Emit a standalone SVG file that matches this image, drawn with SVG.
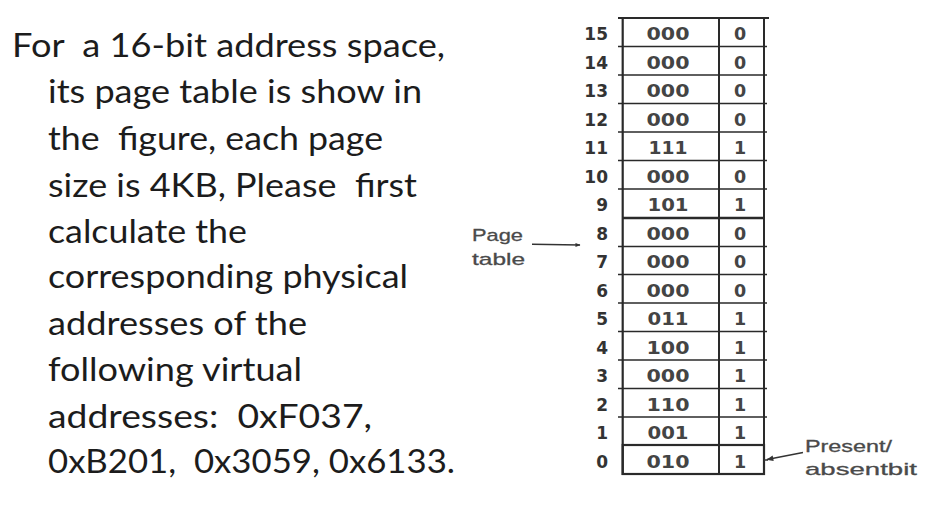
<svg xmlns="http://www.w3.org/2000/svg" width="928" height="507" viewBox="0 0 928 507">
<style>
.q{font-family:Lato,"Open Sans","Liberation Sans",sans-serif;font-size:33px;fill:#1c1c1c;white-space:pre}
.lbl{font-family:"DejaVu Sans","Liberation Sans",sans-serif;font-weight:bold;font-size:17px;fill:#333;text-anchor:end}
.cell{font-family:"DejaVu Sans","Liberation Sans",sans-serif;font-weight:bold;font-size:17.5px;fill:#444;text-anchor:middle}
.note{font-family:"Liberation Sans",Arial,sans-serif;font-size:17px;fill:#4a4a4a;stroke:#4a4a4a;stroke-width:0.3}
.grid{stroke:#2a2a2a;stroke-width:1.6;fill:none}
.conn{stroke:#333;stroke-width:1.5;fill:none}
</style>
<defs>
<marker id="ah" viewBox="0 0 10 10" refX="9" refY="5" markerWidth="8" markerHeight="5" orient="auto" markerUnits="userSpaceOnUse">
<path d="M0,1 L10,5 L0,9 z" fill="#333"/>
</marker>
<marker id="ah2" viewBox="0 0 10 10" refX="9" refY="5" markerWidth="12" markerHeight="7" orient="auto" markerUnits="userSpaceOnUse">
<path d="M0,1 L10,5 L0,9 z" fill="#333"/>
</marker>
</defs>
<rect width="928" height="507" fill="#ffffff"/>

<g id="question" xml:space="preserve">
<text class="q" x="12" y="57" textLength="433" lengthAdjust="spacingAndGlyphs">For  a 16-bit address space,</text>
<text class="q" x="48" y="103" textLength="374" lengthAdjust="spacingAndGlyphs">its page table is show in</text>
<text class="q" x="48" y="150" textLength="335" lengthAdjust="spacingAndGlyphs">the  figure, each page</text>
<text class="q" x="48" y="197" textLength="369" lengthAdjust="spacingAndGlyphs">size is 4KB, Please  first</text>
<text class="q" x="48" y="243" textLength="199" lengthAdjust="spacingAndGlyphs">calculate the</text>
<text class="q" x="48" y="288" textLength="360" lengthAdjust="spacingAndGlyphs">corresponding physical</text>
<text class="q" x="48" y="335" textLength="259" lengthAdjust="spacingAndGlyphs">addresses of the</text>
<text class="q" x="48" y="381" textLength="254" lengthAdjust="spacingAndGlyphs">following virtual</text>
<text class="q" x="48" y="428" textLength="324" lengthAdjust="spacingAndGlyphs">addresses:  0xF037,</text>
<text class="q" x="48" y="473" textLength="407" lengthAdjust="spacingAndGlyphs">0xB201,  0x3059, 0x6133.</text>
</g>

<g id="page-table">
<g class="grid">
<line x1="618" y1="18" x2="769" y2="18" stroke-width="2.2"/>
<line x1="622.7" y1="17" x2="622.7" y2="475" stroke-width="2.2"/>
<line x1="719" y1="17" x2="719" y2="475" stroke-width="2"/>
<line x1="764" y1="17" x2="764" y2="475" stroke-width="2"/>
<line x1="618" y1="46.5" x2="767" y2="46.5"/>
<line x1="618" y1="75" x2="767" y2="75"/>
<line x1="618" y1="103.5" x2="767" y2="103.5"/>
<line x1="618" y1="132" x2="767" y2="132"/>
<line x1="618" y1="160.5" x2="767" y2="160.5"/>
<line x1="618" y1="189" x2="767" y2="189"/>
<line x1="622" y1="218" x2="764" y2="218" stroke-width="2.4"/>
<line x1="618" y1="246.5" x2="767" y2="246.5"/>
<line x1="618" y1="274.5" x2="767" y2="274.5"/>
<line x1="618" y1="303" x2="767" y2="303"/>
<line x1="618" y1="331.5" x2="767" y2="331.5"/>
<line x1="618" y1="360" x2="767" y2="360"/>
<line x1="618" y1="388.5" x2="767" y2="388.5"/>
<line x1="618" y1="417" x2="767" y2="417"/>
<rect x="622.7" y="445" width="141.3" height="29" stroke-width="2.2"/>
</g>
<g id="row-15"><text class="lbl" x="608" y="40">15</text><text class="cell" x="668" y="40" textLength="43" lengthAdjust="spacingAndGlyphs">000</text><text class="cell" x="740" y="40">0</text></g>
<g id="row-14"><text class="lbl" x="608" y="68.5">14</text><text class="cell" x="668" y="68.5" textLength="43" lengthAdjust="spacingAndGlyphs">000</text><text class="cell" x="740" y="68.5">0</text></g>
<g id="row-13"><text class="lbl" x="608" y="97">13</text><text class="cell" x="668" y="97" textLength="43" lengthAdjust="spacingAndGlyphs">000</text><text class="cell" x="740" y="97">0</text></g>
<g id="row-12"><text class="lbl" x="608" y="125.5">12</text><text class="cell" x="668" y="125.5" textLength="43" lengthAdjust="spacingAndGlyphs">000</text><text class="cell" x="740" y="125.5">0</text></g>
<g id="row-11"><text class="lbl" x="608" y="154">11</text><text class="cell" x="668" y="154" textLength="39" lengthAdjust="spacingAndGlyphs">111</text><text class="cell" x="740" y="154">1</text></g>
<g id="row-10"><text class="lbl" x="608" y="182.5">10</text><text class="cell" x="668" y="182.5" textLength="43" lengthAdjust="spacingAndGlyphs">000</text><text class="cell" x="740" y="182.5">0</text></g>
<g id="row-9"><text class="lbl" x="608" y="211">9</text><text class="cell" x="668" y="211" textLength="41" lengthAdjust="spacingAndGlyphs">101</text><text class="cell" x="740" y="211">1</text></g>
<g id="row-8"><text class="lbl" x="608" y="239.5">8</text><text class="cell" x="668" y="239.5" textLength="43" lengthAdjust="spacingAndGlyphs">000</text><text class="cell" x="740" y="239.5">0</text></g>
<g id="row-7"><text class="lbl" x="608" y="268">7</text><text class="cell" x="668" y="268" textLength="43" lengthAdjust="spacingAndGlyphs">000</text><text class="cell" x="740" y="268">0</text></g>
<g id="row-6"><text class="lbl" x="608" y="296.5">6</text><text class="cell" x="668" y="296.5" textLength="43" lengthAdjust="spacingAndGlyphs">000</text><text class="cell" x="740" y="296.5">0</text></g>
<g id="row-5"><text class="lbl" x="608" y="325">5</text><text class="cell" x="668" y="325" textLength="41" lengthAdjust="spacingAndGlyphs">011</text><text class="cell" x="740" y="325">1</text></g>
<g id="row-4"><text class="lbl" x="608" y="353.5">4</text><text class="cell" x="668" y="353.5" textLength="43" lengthAdjust="spacingAndGlyphs">100</text><text class="cell" x="740" y="353.5">1</text></g>
<g id="row-3"><text class="lbl" x="608" y="382">3</text><text class="cell" x="668" y="382" textLength="43" lengthAdjust="spacingAndGlyphs">000</text><text class="cell" x="740" y="382">1</text></g>
<g id="row-2"><text class="lbl" x="608" y="410.5">2</text><text class="cell" x="668" y="410.5" textLength="43" lengthAdjust="spacingAndGlyphs">110</text><text class="cell" x="740" y="410.5">1</text></g>
<g id="row-1"><text class="lbl" x="608" y="439">1</text><text class="cell" x="668" y="439" textLength="41" lengthAdjust="spacingAndGlyphs">001</text><text class="cell" x="740" y="439">1</text></g>
<g id="row-0"><text class="lbl" x="608" y="467.5">0</text><text class="cell" x="668" y="467.5" textLength="43" lengthAdjust="spacingAndGlyphs">010</text><text class="cell" x="740" y="467.5">1</text></g>
</g>

<g id="label-page-table">
<text class="note" x="472" y="241" textLength="51" lengthAdjust="spacingAndGlyphs">Page</text>
<text class="note" x="472" y="265" textLength="53" lengthAdjust="spacingAndGlyphs">table</text>
</g>

<g id="label-present-bit">
<text class="note" x="805" y="452" font-size="18.5" textLength="87" lengthAdjust="spacingAndGlyphs">Present/</text>
<text class="note" x="805" y="475" font-size="18.5" textLength="112" lengthAdjust="spacingAndGlyphs">absentbit</text>
</g>

<g id="connectors">
<line class="conn" x1="532" y1="244.3" x2="580" y2="245" marker-end="url(#ah)"/>
<line class="conn" x1="803" y1="452.5" x2="767" y2="459.5" marker-end="url(#ah2)"/>
<line class="conn" x1="764" y1="460" x2="768" y2="460"/>
</g>
</svg>
